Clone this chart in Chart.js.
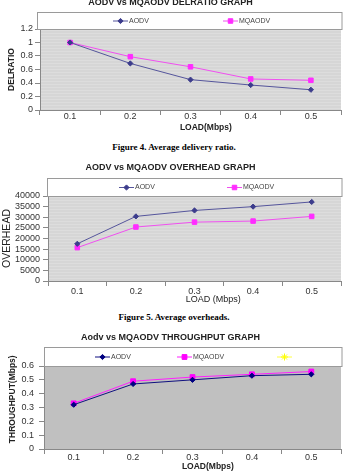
<!DOCTYPE html>
<html>
<head>
<meta charset="utf-8">
<script src="https://cdn.jsdelivr.net/npm/chart.js@4/dist/chart.umd.min.js"></script>
<style>
  html, body { margin: 0; padding: 0; background: #ffffff; }
  body { width: 348px; height: 476px; position: relative; overflow: hidden; }
  .wrap { position: absolute; left: 0; width: 348px; }
  .cap { position: absolute; left: 0; width: 348px; text-align: center;
         font-family: "Liberation Serif", "DejaVu Serif", serif; font-weight: bold;
         font-size: 9px; color: #000; line-height: 10px; }
</style>
</head>
<body>
<div class="wrap" style="top:-3px;height:140px"><canvas id="c1"></canvas></div>
<div class="cap" style="top:142px">Figure 4. Average delivery ratio.</div>
<div class="wrap" style="top:158px;height:148px"><canvas id="c2"></canvas></div>
<div class="cap" style="top:312px">Figure 5. Average overheads.</div>
<div class="wrap" style="top:328px;height:148px"><canvas id="c3"></canvas></div>
<script>
// ---------------- data ----------------
const loads = ["0.1", "0.2", "0.3", "0.4", "0.5"];

const delAodv   = [1.00, 0.69, 0.45, 0.37, 0.30];
const delMqaodv = [1.00, 0.79, 0.64, 0.46, 0.44];
const delTicks  = [0, 0.2, 0.4, 0.6, 0.8, 1, 1.2];

const ovhAodv   = [17500, 30400, 33200, 35000, 37200];
const ovhMqaodv = [15700, 25400, 27700, 28200, 30400];
const ovhTicks  = [0, 5000, 10000, 15000, 20000, 25000, 30000, 35000, 40000];

const thrAodv   = [0.32, 0.47, 0.50, 0.53, 0.54];
const thrMqaodv = [0.33, 0.49, 0.52, 0.54, 0.56];
const thrTicks  = [0, 0.1, 0.2, 0.3, 0.4, 0.5, 0.6];

const seriesNames = ["AODV", "MQAODV"];
const titles = ["AODV vs MQAODV DELRATIO GRAPH", "AODV vs MQAODV OVERHEAD GRAPH", "Aodv vs MQAODV THROUGHPUT GRAPH"];

// ---------------- plugins ----------------
const FONT = "'Liberation Sans', Arial, sans-serif";

const plotBg = {
  id: 'plotBg',
  beforeDraw(chart, args, opts) {
    const a = chart.chartArea, ctx = chart.ctx;
    ctx.save();
    ctx.fillStyle = opts.color;
    ctx.fillRect(a.left, a.top, a.right - a.left, a.bottom - a.top);
    if (opts.stripes) {
      ctx.fillStyle = 'rgba(255,255,255,0.18)';
      for (let y = a.top + 1; y < a.bottom; y += 3) ctx.fillRect(a.left, y, a.right - a.left, 1);
    }
    ctx.restore();
  }
};

function drawMarker(ctx, style, r, x, y, color) {
  ctx.save();
  ctx.fillStyle = color; ctx.strokeStyle = color; ctx.lineWidth = 1;
  if (Chart.helpers && Chart.helpers.drawPoint) {
    Chart.helpers.drawPoint(ctx, {pointStyle: style, radius: r, borderWidth: 1}, x, y);
  }
  ctx.restore();
}

const boxLegend = {
  id: 'boxLegend',
  afterDraw(chart, args, opts) {
    const a = chart.chartArea, ctx = chart.ctx;
    const top = a.top - opts.height, left = a.left + (opts.dx || 0);
    ctx.save();
    ctx.fillStyle = '#ffffff';
    ctx.fillRect(left, top, a.right - left + 1, opts.height);
    ctx.strokeStyle = '#9a9a9a'; ctx.lineWidth = 1;
    ctx.strokeRect(left + 0.5, top + 0.5, a.right - left + 0.5, opts.height);
    const cy = top + opts.height / 2;
    chart.data.datasets.forEach((ds, i) => {
      const x = opts.xs[i];
      ctx.strokeStyle = ds.borderColor; ctx.lineWidth = 1;
      ctx.beginPath(); ctx.moveTo(x, cy + 0.5); ctx.lineTo(x + 15, cy + 0.5); ctx.stroke();
      drawMarker(ctx, ds.pointStyle, ds.pointRadius, x + 7.5, cy + 0.5, ds.pointBackgroundColor);
      ctx.fillStyle = '#444';
      ctx.font = '7px ' + FONT;
      ctx.textBaseline = 'middle'; ctx.textAlign = 'left';
      if (ds.label) ctx.fillText(ds.label, x + 16, cy + 0.5);
    });
    ctx.restore();
  }
};

function ds(label, data, line, point, style, r) {
  return {
    label, data, borderColor: line, backgroundColor: point,
    pointBackgroundColor: point, pointBorderColor: point, pointBorderWidth: 1,
    pointStyle: style, pointRadius: r, borderWidth: 1, tension: 0
  };
}

function makeChart(id, cfg) {
  return new Chart(document.getElementById(id), {
    type: 'line',
    data: { labels: loads, datasets: cfg.datasets },
    plugins: [plotBg, boxLegend],
    options: {
      responsive: true, maintainAspectRatio: false, animation: false,
      layout: { padding: { left: 0, right: 7, top: 0, bottom: 0 } },
      plugins: {
        legend: { display: false },
        tooltip: { enabled: false },
        title: {
          display: true, text: cfg.title, color: '#222',
          font: { family: FONT, size: 9, weight: 'bold' },
          padding: { top: cfg.titlePad[0], bottom: cfg.titlePad[1] }
        },
        plotBg: { color: cfg.bg, stripes: cfg.stripes },
        boxLegend: { height: cfg.legH, xs: cfg.legXs, dx: cfg.legDx || 0 }
      },
      scales: {
        x: {
          type: 'category', offset: true,
          grid: { display: true, offset: true, drawOnChartArea: false, drawTicks: true,
                  tickLength: 5, color: '#888' },
          border: { display: true, color: '#888', width: 1 },
          ticks: { color: '#333', font: { family: FONT, size: 9 }, padding: cfg.xPad, maxRotation: 0, autoSkip: false },
          title: { display: true, text: cfg.xTitle, color: '#222',
                   font: { family: FONT, size: cfg.xTitleSize, weight: cfg.xTitleWeight },
                   padding: { top: 0, bottom: cfg.xTitlePb } },
          afterFit(s) { s.height = cfg.xH; }
        },
        y: {
          min: cfg.yTicks[0], max: cfg.yTicks[cfg.yTicks.length - 1],
          afterBuildTicks(s) { s.ticks = cfg.yTicks.map(v => ({ value: v })); },
          grid: { display: true, drawOnChartArea: false, drawTicks: true, tickLength: 5, color: '#888' },
          border: { display: true, color: '#888', width: 1 },
          ticks: { color: '#333', font: { family: FONT, size: 9 }, padding: cfg.yPad, autoSkip: false,
                   callback: v => String(Math.round(v * 1000) / 1000) },
          title: { display: true, text: cfg.yTitle, color: '#222',
                   font: { family: FONT, size: cfg.yTitleSize, weight: cfg.yTitleWeight },
                   padding: { top: cfg.yTitlePt, bottom: 0 } },
          afterFit(s) { s.width = cfg.yW; }
        }
      }
    }
  });
}

const cAodv1 = '#55559c', cMq = '#f050f0', cMqPt = '#ff2cff';

makeChart('c1', {
  title: titles[0], titlePad: [0.6, 20.6],
  datasets: [
    ds(seriesNames[0], delAodv, cAodv1, '#3c3c8c', 'rectRot', 2.6),
    ds(seriesNames[1], delMqaodv, cMq, cMqPt, 'rect', 3.2)
  ],
  bg: '#d6d6d6', stripes: true, legH: 17, legXs: [113, 223], legDx: -3,
  xTitle: '             LOAD(Mbps)', xTitleSize: 8.5, xTitleWeight: 'bold', xTitlePb: 3.9, xH: 27, xPad: -3.4,
  yTitle: 'DELRATIO', yTitleSize: 8.5, yTitleWeight: 'bold', yTitlePt: 6.4, yW: 40, yPad: 2,
  yTicks: delTicks
});

makeChart('c2', {
  title: titles[1], titlePad: [4.6, 22.6],
  datasets: [
    ds(seriesNames[0], ovhAodv, cAodv1, '#3c3c8c', 'rectRot', 2.6),
    ds(seriesNames[1], ovhMqaodv, cMq, cMqPt, 'rect', 3.2)
  ],
  bg: '#d6d6d6', stripes: true, legH: 18, legXs: [119, 227], legDx: -1,
  xTitle: '               LOAD (Mbps)', xTitleSize: 9, xTitleWeight: 'normal', xTitlePb: 0.6, xH: 25, xPad: 0.6,
  yTitle: 'OVERHEAD', yTitleSize: 10.5, yTitleWeight: 'normal', yTitlePt: 0.7, yW: 48, yPad: 3,
  yTicks: ovhTicks
});

makeChart('c3', {
  title: titles[2], titlePad: [4.6, 22.6],
  datasets: [
    ds(seriesNames[0], thrAodv, '#101080', '#000080', 'rectRot', 2.6),
    ds(seriesNames[1], thrMqaodv, '#ff20ff', '#ff00ff', 'rect', 3.4),
    ds('', [], '#ffff40', '#ffff00', 'star', 3.5)
  ],
  bg: '#c0c0c0', stripes: false, legH: 19, legXs: [95, 177, 277], legDx: 0,
  xTitle: '             LOAD(Mbps)', xTitleSize: 8.5, xTitleWeight: 'bold', xTitlePb: 3.9, xH: 27, xPad: -1.4,
  yTitle: '       THROUGHPUT(Mbps)', yTitleSize: 8.5, yTitleWeight: 'bold', yTitlePt: 7.4, yW: 44, yPad: 5,
  yTicks: thrTicks
});
</script>
</body>
</html>
